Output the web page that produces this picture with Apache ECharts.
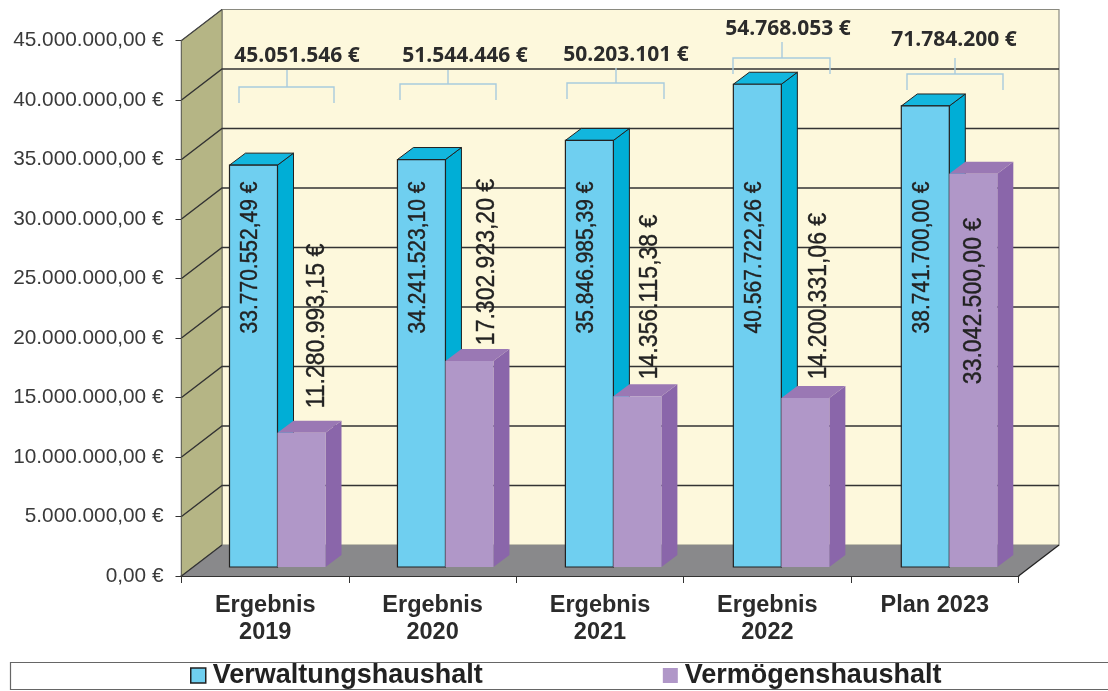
<!DOCTYPE html>
<html><head><meta charset="utf-8">
<style>html,body{margin:0;padding:0;background:#fff}#c{width:1108px;height:691px}</style>
<script src="https://cdn.jsdelivr.net/npm/echarts@6/dist/echarts.min.js"></script>
</head><body><div id="c"></div>
<script>
const categories = ['Ergebnis\n2019','Ergebnis\n2020','Ergebnis\n2021','Ergebnis\n2022','Plan 2023'];
const verwaltung = [33770552.49,34241523.10,35846985.39,40567722.26,38741700.00];
const vermoegen  = [11280993.15,17302923.20,14356115.38,14200331.06,33042500.00];
const totals = ['45.051.546 €','51.544.446 €','50.203.101 €','54.768.053 €','71.784.200 €'];
const yTicks = [0,5e6,1e7,1.5e7,2e7,2.5e7,3e7,3.5e7,4e7,4.5e7];

// layout only (pixels)
const depthWall = [40.5,-31], depthBar = [16,-12];
const barW = 48, barLift = 9;
const blueLabelY = 257.5, blueLabelDx = -27.5;
const purpleLabelY = [326,262,297,296,301];
const purpleLabelX = [317,487,650,819,974];
const totalX = [297,465,626,788,954], totalY = [56,56,55,29,40];
const brX = [[239,334],[400,496],[567,664],[733,830],[907,1003]];
const brStem = [287,448,616,782,955], brY = [87,84,83,58,74], brTop = [70,70,68,42,58];
const FONT = '"Liberation Sans",Arial,sans-serif';

function de(v){
  const [a,b] = v.toFixed(2).split('.');
  return a.replace(/\B(?=(\d{3})+$)/g,'.') + ',' + b + ' €';
}
function frame(api){
  const band = api.size([1,0])[0];
  const x0 = api.coord([0,0])[0]-band/2, x1 = api.coord([categories.length-1,0])[0]+band/2;
  return {x0,x1,y0:api.coord([0,0])[1],yT:api.coord([0,45000000])[1]};
}
function poly(pts,fill,stroke,lw){
  return {type:'polygon',shape:{points:pts},style:{fill,stroke:stroke||null,lineWidth:lw||0}};
}
function wallItem(p,api){
  const f=frame(api),[dx,dy]=depthWall;
  return {type:'group',children:[
    poly([[f.x0+dx,f.yT+dy],[f.x1+dx,f.yT+dy],[f.x1+dx,f.y0+dy],[f.x0+dx,f.y0+dy]],'#fdf8dc','#8a8a80',1.2),
    poly([[f.x0,f.yT],[f.x0+dx,f.yT+dy],[f.x0+dx,f.y0+dy],[f.x0,f.y0]],'#b5b585','#6a6a5c',1),
    poly([[f.x0,f.y0],[f.x0+dx,f.y0+dy],[f.x1+dx,f.y0+dy],[f.x1,f.y0]],'#89898b',null,0)
  ]};
}
function gridItem(p,api){
  const v=api.value(1); if(v===0||v===45000000) return null;
  const f=frame(api),[dx,dy]=depthWall,y=api.coord([0,v])[1];
  return {type:'polyline',shape:{points:[[f.x0,y],[f.x0+dx,y+dy],[f.x1+dx,y+dy]]},
    style:{fill:null,stroke:'#333',lineWidth:1.4}};
}
function edgeItem(p,api){
  const f=frame(api),[dx,dy]=depthWall;
  return {type:'group',children:[
    {type:'polyline',shape:{points:[[f.x0,f.y0],[f.x0+dx,f.y0+dy]]},style:{fill:null,stroke:'#333',lineWidth:1.3}},
    {type:'polyline',shape:{points:[[f.x1,f.y0],[f.x1+dx,f.y0+dy]]},style:{fill:null,stroke:'#222',lineWidth:1.3}},
    {type:'polyline',shape:{points:[[f.x0,f.yT],[f.x0+dx,f.yT+dy]]},style:{fill:null,stroke:'#444',lineWidth:1.2}}
  ]};
}
function barRenderer(side,front,sideC,topC,stroke){
  return function(p,api){
    const i=api.value(0),v=api.value(1);
    const c=api.coord([i,0])[0]+12.3+0.55*i;
    const l=side<0?c-barW:c, r=side<0?c:c+barW;
    const b=api.coord([i,0])[1]-barLift, t=api.coord([i,v])[1]-barLift;
    const [dx,dy]=depthBar;
    return {type:'group',children:[
      poly([[r,t],[r+dx,t+dy],[r+dx,b+dy],[r,b]],sideC,stroke,stroke?1:0),
      poly([[l,t],[l+dx,t+dy],[r+dx,t+dy],[r,t]],topC,stroke,stroke?1:0),
      poly([[l,t],[r,t],[r,b],[l,b]],front,stroke,stroke?1.2:0)
    ]};
  };
}
function vText(x,y,text,size){
  return {type:'text',x,y,rotation:Math.PI/2,scaleY:1.12,
    style:{text,font:size+'px '+FONT,fill:'#222',stroke:'#222',lineWidth:0.35,align:'center',verticalAlign:'middle'}};
}
function labelItem(p,api){
  const i=api.value(0);
  const c=api.coord([i,0])[0]+12.3+0.55*i;
  return {type:'group',children:[
    vText(c+blueLabelDx+1,blueLabelY,de(verwaltung[i]),21),
    vText(purpleLabelX[i],purpleLabelY[i],de(vermoegen[i]),23)
  ]};
}
function bracketItem(p,api){
  const i=api.value(0),[l,r]=brX[i],y=brY[i],s=brStem[i];
  const ln={fill:null,stroke:'#a8cbdd',lineWidth:1.4};
  return {type:'group',children:[
    {type:'polyline',shape:{points:[[l,y+16],[l,y],[r,y],[r,y+16]]},style:ln},
    {type:'polyline',shape:{points:[[s,y],[s,brTop[i]]]},style:ln},
    {type:'text',x:totalX[i],y:totalY[i],style:{text:totals[i],font:'bold 21px "Open Sans",sans-serif',fill:'#2b2b2b',align:'center',verticalAlign:'middle'}}
  ]};
}
const idx = categories.map((_,i)=>i);
const chart = echarts.init(document.getElementById('c'),null,{renderer:'canvas'});
chart.setOption({
  animation:false,
  backgroundColor:'#fff',
  grid:{left:181.5,right:89.5,top:40.5,bottom:115},
  xAxis:{type:'category',data:categories,boundaryGap:true,
    axisLine:{show:true,lineStyle:{color:'#333',width:2}},
    axisTick:{show:true,length:7,lineStyle:{color:'#333',width:1},alignWithLabel:false},
    axisLabel:{interval:0,color:'#2b2b2b',fontFamily:FONT,fontWeight:'bold',fontSize:23.5,lineHeight:27,margin:16}},
  yAxis:{type:'value',min:0,max:45000000,interval:5000000,
    axisLine:{show:true,lineStyle:{color:'#444',width:1.4}},
    axisTick:{show:true,length:6,lineStyle:{color:'#333',width:1}},
    splitLine:{show:false},
    axisLabel:{color:'#3a3a3a',fontFamily:FONT,fontSize:20.8,margin:18,padding:[3,0,0,0],formatter:v=>de(v)}},
  legend:{left:185,top:657,icon:'rect',itemWidth:15,itemHeight:15,itemGap:180,selectedMode:false,
    textStyle:{fontFamily:FONT,fontWeight:'bold',fontSize:27,color:'#222',padding:[0,0,0,2]},
    data:[{name:'Verwaltungshaushalt',itemStyle:{color:'#6fcff0',borderColor:'#222',borderWidth:1.5}},
          {name:'Vermögenshaushalt',itemStyle:{color:'#b097c8',borderWidth:0}}]},
  graphic:[{type:'rect',shape:{x:10.5,y:662.5,width:1110,height:27},style:{fill:'none',stroke:'#666',lineWidth:1.2},silent:true,z:-1}],
  series:[
    {type:'custom',name:'wall',z:1,silent:true,clip:false,data:[[0,0]],renderItem:wallItem},
    {type:'custom',name:'grid',z:2,silent:true,clip:false,data:yTicks.map(v=>[0,v]),renderItem:gridItem},
    {type:'custom',name:'edges',z:2,silent:true,clip:false,data:[[0,0]],renderItem:edgeItem},
    {type:'custom',name:'Verwaltungshaushalt',z:3,clip:false,itemStyle:{color:'#6fcff0'},
      data:verwaltung.map((v,i)=>[i,v]),renderItem:barRenderer(-1,'#6fcff0','#00aed6','#12b6de','#222')},
    {type:'custom',name:'Vermögenshaushalt',z:4,clip:false,itemStyle:{color:'#b097c8'},
      data:vermoegen.map((v,i)=>[i,v]),renderItem:barRenderer(1,'#b097c8','#8a66aa','#9a78b4',null)},
    {type:'custom',name:'labels',z:5,silent:true,clip:false,data:idx.map(i=>[i,0]),renderItem:labelItem},
    {type:'custom',name:'brackets',z:5,silent:true,clip:false,data:idx.map(i=>[i,0]),renderItem:bracketItem}
  ]
});
</script></body></html>
